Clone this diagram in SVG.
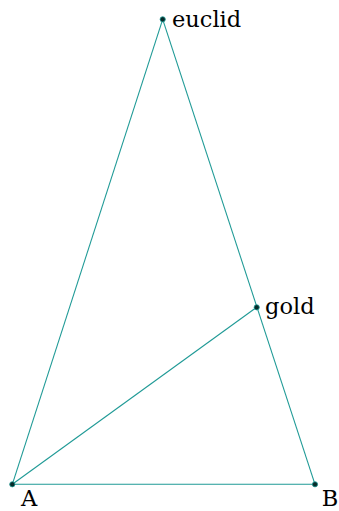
<svg xmlns="http://www.w3.org/2000/svg" width="339" height="511" viewBox="0 0 339 511">
<style>
.e{stroke:#1f9a96;stroke-width:1.1;fill:none}
.p{fill:#062b2a;stroke:#1f9a96;stroke-width:0.8}
.t{font-family:"DejaVu Serif","Liberation Serif",serif;font-size:22.5px;fill:#000}
</style>
<rect width="339" height="511" fill="#fff"/>
<g id="connectors">
<line class="e" x1="12.3" y1="484.3" x2="162.7" y2="19.3"/>
<line class="e" x1="162.7" y1="19.3" x2="315" y2="484.3"/>
<line class="e" x1="12.3" y1="484.3" x2="315" y2="484.3"/>
<line class="e" x1="12.3" y1="484.3" x2="256.7" y2="307.3"/>
</g>
<g id="euclid"><circle class="p" cx="162.7" cy="19.3" r="2.6"/><text class="t" x="172" y="27">euclid</text></g>
<g id="gold"><circle class="p" cx="256.7" cy="307.3" r="2.6"/><text class="t" x="265" y="314">gold</text></g>
<g id="A"><circle class="p" cx="12.3" cy="484.3" r="2.6"/><text class="t" x="29" y="506" text-anchor="middle">A</text></g>
<g id="B"><circle class="p" cx="315" cy="484.3" r="2.6"/><text class="t" x="330" y="506" text-anchor="middle">B</text></g>
</svg>
